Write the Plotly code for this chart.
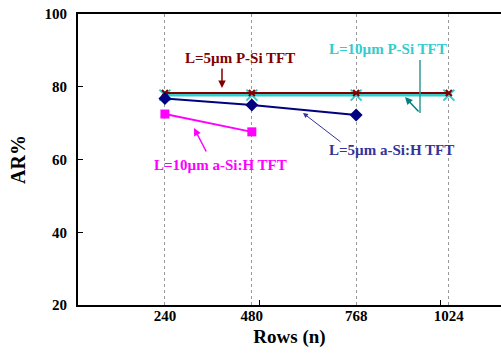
import plotly.graph_objects as go

rows = [240, 480, 768, 1024]
row_labels = ["240", "480", "768", "1024"]
psi_10 = [77.7, 77.7, 77.7, 77.7]
psi_5 = [78.3, 78.3, 78.3, 78.3]
asi_5 = [76.8, 75.0, 72.2]
asi_10 = [72.5, 67.6]

FONT = "Liberation Serif"
RED = "#800000"
CYAN = "#33CCCC"
TEAL = "#339999"
NAVY = "#000080"
NAVY_TXT = "#333399"
MAG = "#FF00FF"

fig = go.Figure()
fig.add_trace(go.Scatter(x=rows, y=psi_10, mode="lines+markers", xaxis="x2",
                         line=dict(color=CYAN, width=3),
                         marker=dict(symbol="x-thin", size=11, color=CYAN,
                                     line=dict(color=CYAN, width=2))))
fig.add_trace(go.Scatter(x=rows, y=psi_5, mode="lines+markers", xaxis="x2",
                         line=dict(color=RED, width=2),
                         marker=dict(symbol="x-thin", size=6, color=RED,
                                     line=dict(color=RED, width=2))))
fig.add_trace(go.Scatter(x=rows[:3], y=asi_5, mode="lines+markers", xaxis="x2",
                         line=dict(color=NAVY, width=2),
                         marker=dict(symbol="diamond", size=10, color=NAVY)))
fig.add_trace(go.Scatter(x=rows[:2], y=asi_10, mode="lines+markers",
                         line=dict(color=MAG, width=2),
                         marker=dict(symbol="square", size=9, color=MAG)))

XR = [0, 1168]
tf = dict(family=FONT, size=15, color="black", weight="bold")

fig.update_layout(
    width=501, height=356,
    margin=dict(l=78, r=0, t=14, b=51),
    paper_bgcolor="white", plot_bgcolor="white",
    showlegend=False,
    xaxis=dict(range=XR, tickvals=[500, 1000], ticktext=["", ""],
               ticks="inside", ticklen=5, tickwidth=1, tickcolor="black",
               showline=True, mirror=True, linecolor="black", linewidth=2,
               showgrid=False, zeroline=False, automargin=False),
    xaxis2=dict(range=XR, overlaying="x", anchor="y", side="bottom",
                tickvals=rows, ticktext=row_labels, tickfont=tf,
                ticks="", showline=False, zeroline=False, automargin=False,
                ticklabeloverflow="allow",
                showgrid=True, griddash="dot", gridcolor="#999999", gridwidth=1,
                title=dict(text="Rows (n)", font=dict(family=FONT, size=19, color="black", weight="bold"),
                           standoff=6)),
    yaxis=dict(range=[20, 100], tickvals=[20, 40, 60, 80, 100],
               ticks="inside", ticklen=5, tickwidth=1, tickcolor="black",
               tickfont=tf, showline=True, linecolor="black", linewidth=2,
               showgrid=False, zeroline=False, ticklabelstandoff=6, automargin=False,
               ticklabeloverflow="allow",
               title=dict(text="AR%", font=dict(family=FONT, size=20, color="black", weight="bold"),
                          standoff=14)),
)

def px2x(p):
    return (p - 78) / (423 / (XR[1] - XR[0]))

def px2y(p):
    return 100 - (p - 14) / (291 / 80)

ann_font = lambda c: dict(family=FONT, size=15, color=c, weight="bold")

# labels
fig.add_annotation(x=px2x(240), y=px2y(58), text="L=5µm P-Si TFT", showarrow=False, font=ann_font(RED))
fig.add_annotation(x=px2x(388), y=px2y(49), text="L=10µm P-Si TFT", showarrow=False, font=ann_font(CYAN))
fig.add_annotation(x=px2x(391), y=px2y(150), text="L=5µm a-Si:H TFT", showarrow=False, font=ann_font(NAVY_TXT))
fig.add_annotation(x=px2x(220), y=px2y(165), text="L=10µm a-Si:H TFT", showarrow=False, font=ann_font(MAG))

# arrows
fig.add_annotation(x=px2x(222), y=px2y(88), ax=0, ay=-21, text="", showarrow=True,
                   arrowhead=2, arrowsize=1, arrowwidth=1.5, arrowcolor=RED)
fig.add_shape(type="line", x0=px2x(420), x1=px2x(420), y0=px2y(60), y1=px2y(113),
              line=dict(color=TEAL, width=1.5))
fig.add_annotation(x=px2x(405), y=px2y(97), ax=15, ay=16, text="", showarrow=True,
                   arrowhead=2, arrowsize=1, arrowwidth=1.5, arrowcolor="#008080")
fig.add_annotation(x=px2x(303), y=px2y(113), ax=39, ay=30, text="", showarrow=True,
                   arrowhead=2, arrowsize=1, arrowwidth=1, arrowcolor=NAVY_TXT)
fig.add_annotation(x=px2x(194), y=px2y(128), ax=13, ay=25, text="", showarrow=True,
                   arrowhead=2, arrowsize=1, arrowwidth=1.5, arrowcolor=MAG)

fig.write_html("out.html", config={"displayModeBar": False},
               post_script="document.body.style.margin='0';document.body.style.overflow='hidden';")
